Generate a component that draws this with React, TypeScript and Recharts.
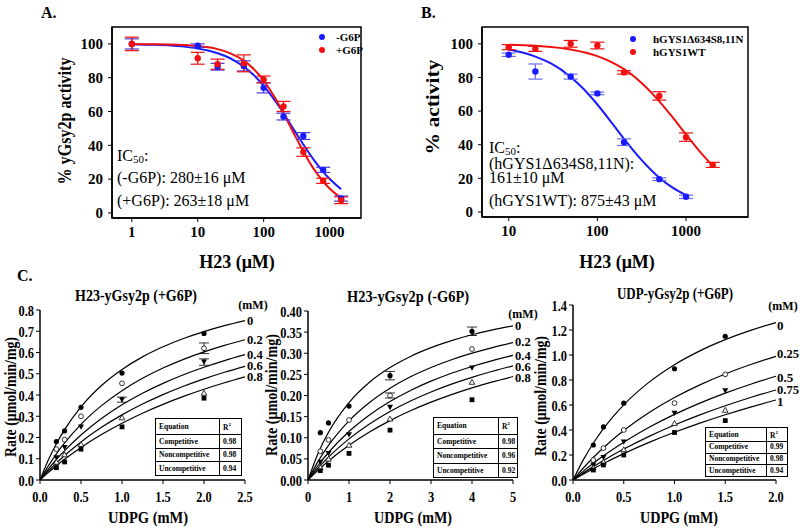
import React from 'react';
import { ComposedChart, Line, Scatter, XAxis, YAxis, ErrorBar, ReferenceArea } from 'recharts';

const SERIF = '"Liberation Serif", "Times New Roman", serif';
const BLUE = '#1a1aff';
const RED = '#f01010';

// ---------- Panel A: yGsy2p vs H23 ----------
const concA = [1, 10, 20, 50, 100, 200, 400, 800, 1500];
const minusG6P = [100, 99, 86.5, 87, 74, 57, 45.5, 25.5, 8.5];
const minusG6PErr = [3, 1, 2, 3, 3, 2, 2, 1.5, 1.5];
const plusG6P = [100, 91.5, 88, 88.5, 79, 63, 36, 19, 7.5];
const plusG6PErr = [4, 3.5, 3, 5, 2, 3, 2.5, 1.5, 2];
const fitConcA = [1, 2, 5, 10, 20, 30, 50, 70, 100, 150, 200, 300, 400, 600, 800, 1000, 1500];
const minusG6PFit = [99.8, 99.5, 98.7, 97.3, 94.5, 91.8, 86.5, 81.7, 75.2, 66.2, 59.0, 48.1, 40.5, 30.5, 24.3, 20.2, 14.0];
const plusG6PFit = [99.9, 99.8, 99.5, 98.7, 96.9, 94.7, 90.1, 85.3, 78.3, 67.9, 59.0, 45.6, 36.4, 25.0, 18.6, 14.5, 9.0];

// ---------- Panel B: hGYS1 vs H23 ----------
const concBMut = [10, 20, 50, 100, 200, 500, 1000];
const mutant = [93.5, 83.5, 80.5, 70.5, 41.5, 19.5, 9];
const mutantErr = [1, 4.5, 1.5, 0.8, 2, 0.8, 1];
const concBWT = [10, 20, 50, 100, 200, 500, 1000, 2000];
const wildType = [98, 97, 100, 99, 83, 69, 44.5, 28];
const wildTypeErr = [1.5, 1.5, 2, 2, 1, 2.5, 2.5, 1.5];
const fitConcBMut = [10, 15, 20, 30, 50, 70, 100, 150, 200, 300, 500, 700, 1000];
const mutantFit = [96.6, 94.5, 92.4, 88.3, 80.3, 73.1, 63.9, 52.1, 43.5, 32.2, 20.4, 14.6, 10.0];
const fitConcBWT = [10, 20, 50, 100, 150, 200, 300, 500, 700, 1000, 1500, 2000];
const wildTypeFit = [99.5, 98.8, 96.6, 92.7, 88.7, 84.9, 77.8, 65.8, 56.5, 46.1, 34.7, 27.5];

// ---------- Panel C1: H23-yGsy2p (+G6P) ----------
const udpgC1 = [0.2, 0.3, 0.5, 1, 2];
const c1Inh0 = [0.181, 0.231, 0.342, 0.503, 0.69];
const c1Inh02 = [0.145, 0.19, 0.3, 0.455, 0.62];
const c1Inh04 = [0.105, 0.153, 0.25, 0.378, 0.555];
const c1Inh06 = [0.085, 0.12, 0.168, 0.294, 0.41];
const c1Inh08 = [0.058, 0.085, 0.145, 0.25, 0.385];
const c1Err02 = [null, null, null, null, 0.025];
const c1Err04 = [null, null, null, 0.012, 0.015];
const c1Labels = ['0', '0.2', '0.4', '0.6', '0.8'];
const fitUdpgC1 = [0, 0.1, 0.2, 0.3, 0.5, 0.75, 1, 1.25, 1.5, 1.75, 2, 2.25, 2.5];
const c1Fit0 = [0, 0.0929, 0.1708, 0.2372, 0.3442, 0.4444, 0.52, 0.5793, 0.6268, 0.6659, 0.6985, 0.7262, 0.75];
const c1Fit02 = [0, 0.0653, 0.123, 0.1744, 0.2621, 0.35, 0.4205, 0.4784, 0.5267, 0.5676, 0.6027, 0.6332, 0.66];
const c1Fit04 = [0, 0.0505, 0.0964, 0.1383, 0.2121, 0.2893, 0.3537, 0.4082, 0.4549, 0.4954, 0.5308, 0.5621, 0.59];
const c1Fit06 = [0, 0.0414, 0.0797, 0.1152, 0.179, 0.2477, 0.3065, 0.3574, 0.4018, 0.441, 0.4758, 0.507, 0.535];
const c1Fit08 = [0, 0.0345, 0.0669, 0.0973, 0.1528, 0.2138, 0.2672, 0.3143, 0.3561, 0.3935, 0.4271, 0.4575, 0.4852];
const c1Table = [['Competitive', '0.98'], ['Noncompetitive', '0.98'], ['Uncompetitive', '0.94']];

// ---------- Panel C2: H23-yGsy2p (-G6P) ----------
const udpgC2 = [0.3, 0.5, 1, 2, 4];
const c2Inh0 = [0.112, 0.135, 0.175, 0.247, 0.352];
const c2Inh02 = [0.068, 0.095, 0.142, 0.2, 0.31];
const c2Inh04 = [0.042, 0.063, 0.107, 0.172, 0.265];
const c2Inh06 = [0.03, 0.05, 0.083, 0.145, 0.232];
const c2Inh08 = [0.022, 0.035, 0.063, 0.118, 0.19];
const c2Err0 = [null, null, null, 0.01, 0.01];
const c2Err02 = [null, null, null, 0.006, null];
const c2Labels = ['0', '0.2', '0.4', '0.6', '0.8'];
const fitUdpgC2 = [0, 0.25, 0.5, 1, 1.5, 2, 2.5, 3, 3.5, 4, 4.5, 5];
const c2Fit0 = [0, 0.0639, 0.1129, 0.1832, 0.2312, 0.266, 0.2925, 0.3132, 0.3299, 0.3437, 0.3552, 0.365];
const c2Fit02 = [0, 0.0446, 0.0818, 0.14, 0.1835, 0.2173, 0.2443, 0.2663, 0.2847, 0.3002, 0.3135, 0.325];
const c2Fit04 = [0, 0.0349, 0.0651, 0.1148, 0.154, 0.1857, 0.2119, 0.2339, 0.2526, 0.2687, 0.2827, 0.295];
const c2Fit06 = [0, 0.0286, 0.0541, 0.0973, 0.1326, 0.1621, 0.187, 0.2084, 0.2269, 0.243, 0.2573, 0.27];
const c2Fit08 = [0, 0.0235, 0.0449, 0.0822, 0.1137, 0.1406, 0.1639, 0.1842, 0.2021, 0.218, 0.2322, 0.245];
const c2Table = [['Competitive', '0.98'], ['Noncompetitive', '0.96'], ['Uncompetitive', '0.92']];

// ---------- Panel C3: UDP-yGsy2p (+G6P) ----------
const udpgC3 = [0.2, 0.3, 0.5, 1, 1.5];
const c3Inh0 = [0.28, 0.425, 0.615, 0.89, 1.15];
const c3Inh025 = [0.16, 0.255, 0.4, 0.615, 0.845];
const c3Inh05 = [0.12, 0.18, 0.305, 0.535, 0.715];
const c3Inh075 = [0.1, 0.145, 0.245, 0.455, 0.56];
const c3Inh1 = [0.08, 0.12, 0.2, 0.38, 0.475];
const fitUdpgC3 = [0, 0.1, 0.2, 0.3, 0.5, 0.75, 1, 1.25, 1.5, 1.75, 2];
const c3Fit0 = [0, 0.1587, 0.2939, 0.4105, 0.6012, 0.7832, 0.9228, 1.0333, 1.123, 1.1972, 1.2597];
const c3Fit025 = [0, 0.0941, 0.1797, 0.2579, 0.3955, 0.5395, 0.6596, 0.7612, 0.8484, 0.9239, 0.99];
const c3Fit05 = [0, 0.0689, 0.1332, 0.1932, 0.3024, 0.4215, 0.5249, 0.6154, 0.6953, 0.7664, 0.8301];
const c3Fit075 = [0, 0.055, 0.107, 0.1562, 0.2474, 0.3493, 0.4399, 0.521, 0.594, 0.66, 0.7201];
const c3Fit1 = [0, 0.0461, 0.0902, 0.1323, 0.2111, 0.3006, 0.3815, 0.455, 0.5221, 0.5835, 0.64];
const c3Table = [['Competitive', '0.99'], ['Noncompetitive', '0.98'], ['Uncompetitive', '0.94']];

const toPoints = (xs: number[], ys: number[], errs?: (number | null)[]) =>
  xs.map((x, i) => ({ x, y: ys[i], e: errs ? errs[i] : null }));

// markers used in the kinetics panels (SigmaPlot style)
const markers = [
  (p: any) => <circle cx={p.cx} cy={p.cy} r={2.6} fill="#000" />,
  (p: any) => <circle cx={p.cx} cy={p.cy} r={2.4} fill="#fff" stroke="#000" strokeWidth={0.8} />,
  (p: any) => <path d={`M${p.cx - 3},${p.cy - 2.5}L${p.cx + 3},${p.cy - 2.5}L${p.cx},${p.cy + 2.8}Z`} fill="#000" />,
  (p: any) => <path d={`M${p.cx - 2.8},${p.cy + 2.3}L${p.cx + 2.8},${p.cy + 2.3}L${p.cx},${p.cy - 2.6}Z`} fill="#fff" stroke="#000" strokeWidth={0.8} />,
  (p: any) => <rect x={p.cx - 2.4} y={p.cy - 2.4} width={4.8} height={4.8} fill="#000" />,
];

const tickStyle = (size: number) => ({ fill: '#000', fontFamily: SERIF, fontWeight: 700, fontSize: size });
const axisLine = { stroke: '#000', strokeWidth: 1.5 };

// narrow bold tick text, the source figure is slightly squeezed sideways
const narrowTick = (fmt: (v: number) => string, isX: boolean) => (p: any) => (
  <text transform={`translate(${p.x},${p.y}) scale(0.8,1)`} textAnchor={p.textAnchor} fontSize={15.5}
    fontFamily={SERIF} fontWeight={700} fill="#000" dy={isX ? '0.71em' : '0.355em'}>
    {fmt(p.payload.value)}
  </text>
);

function DosePanel({ left, top, width, height, xDomain, xTicks, series }: any) {
  return (
    <div style={{ position: 'absolute', left, top }}>
      <ComposedChart width={width} height={height} margin={{ top: 10, right: 10, bottom: 20, left: 0 }}>
        <XAxis dataKey="x" type="number" scale="log" domain={xDomain} ticks={xTicks} allowDataOverflow interval={0}
          height={30} tickSize={4} tickMargin={4} tick={tickStyle(15)} axisLine={axisLine} tickLine={{ stroke: '#000' }} />
        <YAxis dataKey="y" type="number" domain={[-3, 110]} ticks={[0, 20, 40, 60, 80, 100]} allowDataOverflow interval={0}
          width={52} tickSize={4} tickMargin={5} tick={tickStyle(15)} axisLine={axisLine} tickLine={{ stroke: '#000' }} />
        <ReferenceArea x1={xDomain[0]} x2={xDomain[1]} y1={-3} y2={110} fill="none" stroke="#000" strokeWidth={1.5} />
        {series.map((s: any) => (
          <Line key={s.name + 'fit'} data={s.fit} dataKey="y" type="monotone" stroke={s.color} strokeWidth={2}
            dot={false} activeDot={false} isAnimationActive={false} />
        ))}
        {series.map((s: any) => (
          <Scatter key={s.name} data={s.points} dataKey="y" fill={s.color} isAnimationActive={false}
            shape={(p: any) => <circle cx={p.cx} cy={p.cy} r={3.2} fill={s.color} />}>
            <ErrorBar dataKey="e" direction="y" width={7} stroke={s.barColor} strokeWidth={1.2} />
          </Scatter>
        ))}
      </ComposedChart>
    </div>
  );
}

function KineticPanel({ left, top, height, marginTop, yWidth, marginRight, xMax, xTicks, xDigits, yMax, yTicks, yDigits, curves, points }: any) {
  return (
    <div style={{ position: 'absolute', left, top }}>
      <ComposedChart width={270} height={height} margin={{ top: marginTop, right: marginRight, bottom: 10, left: 0 }}>
        <XAxis dataKey="x" type="number" domain={[0, xMax]} ticks={xTicks} allowDataOverflow height={30} interval={0}
          tickSize={4} tickMargin={7} axisLine={axisLine} tickLine={{ stroke: '#000' }}
          tick={narrowTick((v) => v.toFixed(xDigits), true)} />
        <YAxis dataKey="y" type="number" domain={[0, yMax]} ticks={yTicks} allowDataOverflow width={yWidth} interval={0}
          tickSize={4} tickMargin={2} axisLine={axisLine} tickLine={{ stroke: '#000' }}
          tick={narrowTick((v) => v.toFixed(yDigits), false)} />
        {curves.map((c: any, i: number) => (
          <Line key={'fit' + i} data={c} dataKey="y" type="monotone" stroke="#000" strokeWidth={1.2}
            dot={false} activeDot={false} isAnimationActive={false} />
        ))}
        {points.map((p: any, i: number) => (
          <Scatter key={'pts' + i} data={p} dataKey="y" fill="#000" shape={markers[i]} isAnimationActive={false}>
            <ErrorBar dataKey="e" direction="y" width={5} stroke="#000" strokeWidth={0.8} />
          </Scatter>
        ))}
      </ComposedChart>
    </div>
  );
}

function FitTable({ left, top, width, height, col1, rows }: any) {
  const cell: React.CSSProperties = {
    border: '1px solid #000', padding: '0 3px', fontFamily: SERIF, fontWeight: 700, fontSize: 7.5, lineHeight: '1',
  };
  return (
    <table style={{ position: 'absolute', left, top, width, height, borderCollapse: 'collapse', background: '#fff', tableLayout: 'fixed' }}>
      <tbody>
        <tr>
          <td style={{ ...cell, width: col1 }}>Equation</td>
          <td style={cell}>R<sup style={{ fontSize: 5 }}>2</sup></td>
        </tr>
        {rows.map((r: string[]) => (
          <tr key={r[0]}>
            <td style={cell}>{r[0]}</td>
            <td style={cell}>{r[1]}</td>
          </tr>
        ))}
      </tbody>
    </table>
  );
}

function T({ x, y, size = 14, weight = 700, anchor = 'start', rotate = false, children, fill = '#000', len }: any) {
  return (
    <text x={x} y={y} fontSize={size} fontFamily={SERIF} fontWeight={weight} textAnchor={anchor}
      dominantBaseline="central" fill={fill} textLength={len} lengthAdjust={len ? 'spacingAndGlyphs' : undefined}
      transform={rotate ? `rotate(-90 ${x} ${y})` : undefined}>
      {children}
    </text>
  );
}

function IC50({ x, y }: any) {
  return (
    <text x={x} y={y} fontSize={16} fontFamily={SERIF} dominantBaseline="central">
      IC<tspan fontSize={11} dy={4}>50</tspan><tspan dy={-4}>:</tspan>
    </text>
  );
}

export default function App() {
  const curveLabelsC = (x: number, ys: number[], labels: string[]) =>
    labels.map((l, i) => <T key={l + x} x={x} y={ys[i]} size={12.5}>{l}</T>);

  return (
    <div style={{ position: 'absolute', left: 0, top: 0, width: 800, height: 528, background: '#fff', overflow: 'hidden' }}>
      <DosePanel left={60} top={17} width={311} height={251} xDomain={[0.5, 3000]} xTicks={[1, 10, 100, 1000]}
        series={[
          { name: 'minus', color: BLUE, barColor: '#4a3ad8', points: toPoints(concA, minusG6P, minusG6PErr), fit: toPoints(fitConcA, minusG6PFit) },
          { name: 'plus', color: RED, barColor: RED, points: toPoints(concA, plusG6P, plusG6PErr), fit: toPoints(fitConcA, plusG6PFit) },
        ]} />
      <DosePanel left={430} top={17} width={328} height={250} xDomain={[5, 5000]} xTicks={[10, 100, 1000]}
        series={[
          { name: 'mut', color: BLUE, barColor: '#6b6bf0', points: toPoints(concBMut, mutant, mutantErr), fit: toPoints(fitConcBMut, mutantFit) },
          { name: 'wt', color: RED, barColor: RED, points: toPoints(concBWT, wildType, wildTypeErr), fit: toPoints(fitConcBWT, wildTypeFit) },
        ]} />

      <KineticPanel left={0} top={300} height={220} marginTop={10} yWidth={40} marginRight={25}
        xMax={2.5} xTicks={[0, 0.5, 1, 1.5, 2, 2.5]} xDigits={1}
        yMax={0.8} yTicks={[0, 0.1, 0.2, 0.3, 0.4, 0.5, 0.6, 0.7, 0.8]} yDigits={1}
        curves={[c1Fit0, c1Fit02, c1Fit04, c1Fit06, c1Fit08].map((f) => toPoints(fitUdpgC1, f))}
        points={[
          toPoints(udpgC1, c1Inh0), toPoints(udpgC1, c1Inh02, c1Err02), toPoints(udpgC1, c1Inh04, c1Err04),
          toPoints(udpgC1, c1Inh06), toPoints(udpgC1, c1Inh08),
        ]} />
      <KineticPanel left={265} top={300} height={220} marginTop={11} yWidth={43} marginRight={22}
        xMax={5} xTicks={[0, 1, 2, 3, 4, 5]} xDigits={0}
        yMax={0.4} yTicks={[0, 0.05, 0.1, 0.15, 0.2, 0.25, 0.3, 0.35, 0.4]} yDigits={2}
        curves={[c2Fit0, c2Fit02, c2Fit04, c2Fit06, c2Fit08].map((f) => toPoints(fitUdpgC2, f))}
        points={[
          toPoints(udpgC2, c2Inh0, c2Err0), toPoints(udpgC2, c2Inh02, c2Err02), toPoints(udpgC2, c2Inh04),
          toPoints(udpgC2, c2Inh06), toPoints(udpgC2, c2Inh08),
        ]} />
      <KineticPanel left={530} top={295} height={225} marginTop={10} yWidth={43} marginRight={24}
        xMax={2} xTicks={[0, 0.5, 1, 1.5, 2]} xDigits={1}
        yMax={1.4} yTicks={[0, 0.2, 0.4, 0.6, 0.8, 1, 1.2, 1.4]} yDigits={1}
        curves={[c3Fit0, c3Fit025, c3Fit05, c3Fit075, c3Fit1].map((f) => toPoints(fitUdpgC3, f))}
        points={[
          toPoints(udpgC3, c3Inh0), toPoints(udpgC3, c3Inh025), toPoints(udpgC3, c3Inh05),
          toPoints(udpgC3, c3Inh075), toPoints(udpgC3, c3Inh1),
        ]} />

      <FitTable left={155} top={418} width={87} height={58} col1={57} rows={c1Table} />
      <FitTable left={433} top={417} width={85} height={61} col1={58} rows={c2Table} />
      <FitTable left={705} top={427} width={83} height={50} col1={54} rows={c3Table} />

      <svg width={800} height={528} style={{ position: 'absolute', left: 0, top: 0, pointerEvents: 'none' }}>
        {/* panel A */}
        <T x={41} y={12} size={16}>A.</T>
        <T x={65} y={121} size={18} anchor="middle" rotate len={127}>% yGsy2p activity</T>
        <T x={237} y={262} size={18} anchor="middle">H23 (μM)</T>
        <circle cx={322} cy={37} r={3} fill={BLUE} />
        <T x={336} y={37} size={11}>-G6P</T>
        <circle cx={322} cy={50} r={3} fill={RED} />
        <T x={336} y={50} size={11}>+G6P</T>
        <IC50 x={117} y={155} />
        <T x={117} y={177} size={16} weight={400}>(-G6P): 280±16 μM</T>
        <T x={117} y={200} size={16} weight={400}>(+G6P): 263±18 μM</T>

        {/* panel B */}
        <T x={421} y={12} size={16}>B.</T>
        <T x={433} y={107} size={18} anchor="middle" rotate len={95}>% activity</T>
        <T x={617} y={262} size={18} anchor="middle">H23 (μM)</T>
        <circle cx={633} cy={39} r={3} fill={BLUE} />
        <T x={653} y={39} size={11}>hGYS1Δ634S8,11N</T>
        <circle cx={633} cy={52} r={3} fill={RED} />
        <T x={653} y={52} size={11}>hGYS1WT</T>
        <IC50 x={489} y={147} />
        <T x={489} y={163} size={16} weight={400}>(hGYS1Δ634S8,11N):</T>
        <T x={489} y={177} size={16} weight={400}>161±10 μM</T>
        <T x={489} y={200} size={16} weight={400}>(hGYS1WT): 875±43 μM</T>

        {/* panel C */}
        <T x={17} y={275} size={16}>C.</T>
        <T x={136} y={295} size={17} anchor="middle" len={122}>H23-yGsy2p (+G6P)</T>
        <T x={253} y={305} size={12} anchor="middle">(mM)</T>
        <T x={10} y={397} size={17} anchor="middle" rotate len={120}>Rate (μmol/min/mg)</T>
        <T x={148} y={517} size={17} anchor="middle" len={80}>UDPG (mM)</T>
        {curveLabelsC(247, [321, 340, 355, 366, 377], c1Labels)}

        <T x={408} y={296} size={17} anchor="middle" len={122}>H23-yGsy2p (-G6P)</T>
        <T x={523} y={314} size={12} anchor="middle">(mM)</T>
        <T x={271} y={395} size={17} anchor="middle" rotate len={122}>Rate (μmol/min/mg)</T>
        <T x={413} y={517} size={17} anchor="middle" len={78}>UDPG (mM)</T>
        {curveLabelsC(515, [326, 342, 356, 367, 378], c2Labels)}

        <T x={675} y={293} size={17} anchor="middle" len={116}>UDP-yGsy2p (+G6P)</T>
        <T x={783} y={306} size={12} anchor="middle">(mM)</T>
        <T x={540} y={396} size={17} anchor="middle" rotate len={120}>Rate (μmol/min/mg)</T>
        <T x={679} y={517} size={17} anchor="middle" len={78}>UDPG (mM)</T>
        <T x={777} y={325} size={13}>0</T>
        <T x={777} y={353} size={13} len={22}>0.25</T>
        <T x={777} y={377} size={13}>0.5</T>
        <T x={777} y={389} size={13} len={22}>0.75</T>
        <T x={777} y={401} size={13}>1</T>
      </svg>
    </div>
  );
}
